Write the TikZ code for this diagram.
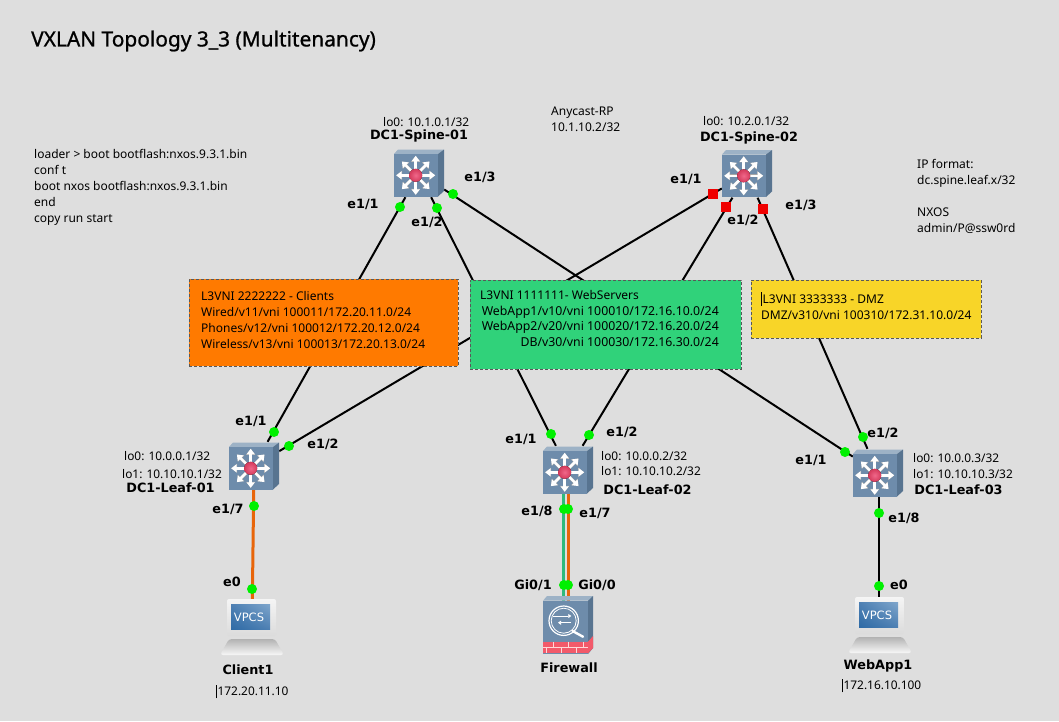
\documentclass[tikz,border=0pt]{standalone}
\usepackage{fontspec}
\setmainfont{Noto Sans}
\newfontfamily\labelfont{DejaVu Sans}
\newfontfamily\titlefont[FakeBold=0.9]{Noto Sans}
\definecolor{PageGray}{HTML}{DEDEDE}
\definecolor{BoxOrange}{HTML}{FF7A00}
\definecolor{BoxGreen}{HTML}{30D27A}
\definecolor{BoxYellow}{HTML}{F8D528}
\definecolor{LinkGreen}{HTML}{2FBA7C}
\definecolor{LinkOrange}{HTML}{E8650A}
\definecolor{PortGreen}{HTML}{00F000}
\definecolor{PortRed}{HTML}{F00000}
\definecolor{IconFront}{HTML}{6E8CAB}
\definecolor{IconTop}{HTML}{9DB2C6}
\definecolor{IconSide}{HTML}{587490}
\definecolor{ScreenDark}{HTML}{2F6BA6}
\definecolor{ScreenLight}{HTML}{7FA6CC}
\definecolor{ScreenMid}{HTML}{4E80B3}
\definecolor{DiscIn}{HTML}{F0688A}
\definecolor{DiscOut}{HTML}{D43A5C}
\definecolor{BrickRed}{HTML}{F25A6A}
\usetikzlibrary{arrows.meta,shadings}
\newcommand{\caretbar}{\rule[-2.5pt]{0.8pt}{13.5pt}\hspace{0.6pt}}
\tikzset{
    device/.style={minimum width=50pt,minimum height=48pt,inner sep=0pt},
    link/.style={line width=2pt,black},
    portdot/.style={circle,fill=PortGreen,minimum size=10pt,inner sep=0pt},
    portsquare/.style={rectangle,fill=PortRed,minimum size=10pt,inner sep=0pt},
    portlabel/.style={font=\labelfont\bfseries\fontsize{12.8}{14}\selectfont,inner sep=0pt},
    devlabel/.style={font=\labelfont\bfseries\fontsize{12.8}{14}\selectfont,inner sep=0pt},
    note/.style={font=\fontsize{12}{16}\selectfont,inner sep=0pt,anchor=north west,align=left},
    addr/.style={font=\fontsize{11.9}{14}\selectfont,inner sep=0pt,anchor=west},
    vnibox/.style={draw=black!65,dashed,line width=1pt,dash pattern=on 3pt off 2pt},
    star/.style={line width=2.6pt,white,-{Triangle[length=5.5pt,width=8pt]}},
    starshadow/.style={line width=3.2pt,black!35,-{Triangle[length=6pt,width=9pt]}},
    switchicon/.pic={
        \fill[IconTop] (-25,-19) -- (-21,-23.5) -- (25,-23.5) -- (19,-19) -- cycle;
        \fill[IconSide] (19,-19) -- (25,-23.5) -- (25,18) -- (19,23.5) -- cycle;
        \fill[IconFront] (-25,-19) rectangle (19,23.5);
        \foreach \a in {0,45,...,315} {
            \draw[starshadow] (-3.3,2.3) -- ++(\a:19.5pt);
        }
        \foreach \a in {0,45,...,315} {
            \draw[star] (-3.3,2.3) -- ++(\a:19.5pt);
        }
        \fill[inner color=DiscIn,outer color=DiscOut] (-3.3,2.3) circle (6.5pt);
    },
    vpcsicon/.pic={
        \shade[top color=black!30,bottom color=black!3,rounded corners=3pt] (-32,27) -- (-23,11) -- (23,11) -- (32,27) -- cycle;
        \shade[top color=black!4,bottom color=black!14,rounded corners=2pt] (-25,-29) rectangle (24,8);
        \shade[lower left=ScreenDark,upper right=ScreenLight,lower right=ScreenMid,upper left=ScreenMid] (-21,-24) rectangle (18,1);
        \node[font=\labelfont\fontsize{11.5}{12}\selectfont,text=white,inner sep=0pt] (-name) at (-3,-11) {VPCS};
    },
    firewallicon/.pic={
        \fill[IconTop] (-25,-24.3) -- (-21,-29) -- (25,-29) -- (20,-24.3) -- cycle;
        \fill[IconSide] (20,-24.3) -- (25,-29) -- (25,23) -- (20,29) -- cycle;
        \fill[IconFront] (-25,-24.3) rectangle (20,29);
        \fill[BrickRed] (-25,16.7) rectangle (20,28.3);
        \fill[BrickRed] (20,16.7) -- (25,11) -- (25,23) -- (20,28.3) -- cycle;
        \draw[white!85!red,line width=0.7pt] (-25,22.5) -- (20,22.5);
        \foreach \x in {-15,0,15} {
            \draw[white!85!red,line width=0.7pt] (\x,16.7) -- (\x,22.5);
            \draw[white!85!red,line width=0.7pt] (\x-7,22.5) -- (\x-7,28.3);
        }
        \draw[white,line width=2.4pt,line cap=round] (4.5,6) -- (15,11.7);
        \draw[white,line width=1.2pt] (-4.3,-4.3) circle (14.7pt);
        \draw[white,line width=0.8pt] (-4.3,-4.3) circle (12.5pt);
        \draw[white,line width=1pt,-{Triangle[length=3pt,width=4pt]}] (-15,-9) -- (3.3,-9);
        \draw[white,line width=1pt,-{Triangle[length=3pt,width=4pt]}] (3.3,-2.3) -- (-10,-2.3);
    },
}

\begin{document}
\begin{tikzpicture}[x=1pt,y=-1pt]
    \useasboundingbox[fill=PageGray] (0,0) rectangle (1059,721);
    % devices
    \node[device] (spine1) at (419,173) {};
    \node[device] (spine2) at (747,173.5) {};
    \node[device] (leaf1) at (254,466) {};
    \node[device] (leaf2) at (568,470) {};
    \node[device] (leaf3) at (878,473) {};
    \node[device] (client1) at (252,628) {};
    \node[device] (firewall) at (568,625) {};
    \node[device] (webapp1) at (880,626) {};
    % links
    \draw[link] (spine1) -- (leaf1);
    \draw[link] (spine1) -- (leaf2);
    \draw[link] (spine1) -- (leaf3);
    \draw[link] (spine2) -- (leaf1);
    \draw[link] (spine2) -- (leaf2);
    \draw[link] (spine2) -- (leaf3);
    \draw[link] ([xshift=1pt]leaf3.center) -- ([xshift=-1pt]webapp1.center);
    \draw[link,LinkOrange,line width=3pt] (leaf1) -- (client1);
    \draw[link,LinkGreen,line width=3pt] ([xshift=-4.5pt]leaf2.center) -- ([xshift=-4.5pt]firewall.center);
    \draw[link,LinkOrange,line width=3pt] ([xshift=0.5pt]leaf2.center) -- ([xshift=0.5pt]firewall.center);
    % icons
    \pic at (spine1) {switchicon};
    \pic at (spine2) {switchicon};
    \pic at (leaf1) {switchicon};
    \pic at (leaf2) {switchicon};
    \pic at (leaf3) {switchicon};
    \pic (client) at (client1) {vpcsicon};
    \pic at (firewall) {firewallicon};
    \pic (webapp) at (webapp1) {vpcsicon};
    % vni boxes
    \node[vnibox,fill=BoxOrange,minimum width=269pt,minimum height=87pt,inner sep=0pt] (clients) at (323.5,322.5) {};
    \node[vnibox,fill=BoxGreen,minimum width=271pt,minimum height=89pt,inner sep=0pt] (webservers) at (605.5,324.5) {};
    \node[vnibox,fill=BoxYellow,minimum width=230pt,minimum height=58pt,inner sep=0pt] (dmz) at (866,309) {};
    \node[note] (clientstext) at (201,291) {L3VNI 2222222 - Clients\\Wired/v11/vni 100011/172.20.11.0/24\\Phones/v12/vni 100012/172.20.12.0/24\\Wireless/v13/vni 100013/172.20.13.0/24};
    \node[note] (webheader) at (480,290.5) {L3VNI 1111111- WebServers};
    \node[note,anchor=north east,align=right,font=\fontsize{12.3}{15.7}\selectfont] (webtext) at (719,305.5) {WebApp1/v10/vni 100010/172.16.10.0/24\\WebApp2/v20/vni 100020/172.16.20.0/24\\DB/v30/vni 100030/172.16.30.0/24};
    \node[note] (dmztext) at (761,292) {\caretbar L3VNI 3333333 - DMZ\\DMZ/v310/vni 100310/172.31.10.0/24};
    % port markers
    \foreach \x/\y [count=\i] in {400/207,437/208,453/194,274/432,289/446,254/506,252/589,551/434,589/435,564/509,568/509,564/585,568/585,845/452,863/437,879/513,879/586} {
        \node[portdot] (dot\i) at (\x,\y) {};
    }
    \foreach \x/\y [count=\i] in {713/194,726/207,763/209} {
        \node[portsquare] (square\i) at (\x,\y) {};
    }
    % port labels
    \foreach \x/\y/\t [count=\i] in {363/204/e1\slash 1,427/222/e1\slash 2,480/177/e1\slash 3,686/179/e1\slash 1,743/220/e1\slash 2,801/205/e1\slash 3,251/421/e1\slash 1,323/444/e1\slash 2,228/509/e1\slash 7,232/582/e0,521/439/e1\slash 1,622/432/e1\slash 2,537/511/e1\slash 8,595/513/e1\slash 7,533/585/Gi0\slash 1,597/585/Gi0\slash 0,811/460/e1\slash 1,883/433/e1\slash 2,904/518/e1\slash 8,899/585/e0} {
        \node[portlabel] (port\i) at (\x,\y) {\t};
    }
    % device labels
    \node[devlabel] (spine1name) at (419,136) {DC1-Spine-01};
    \node[devlabel] (spine2name) at (749,138) {DC1-Spine-02};
    \node[devlabel] (leaf1name) at (170.5,487.5) {DC1-Leaf-01};
    \node[devlabel] (leaf2name) at (647.5,490) {DC1-Leaf-02};
    \node[devlabel] (leaf3name) at (958.5,490) {DC1-Leaf-03};
    \node[devlabel] (client1name) at (248,669.5) {Client1};
    \node[devlabel] (firewallname) at (569,667.5) {Firewall};
    \node[devlabel] (webapp1name) at (878,665.5) {WebApp1};
    % addresses
    \node[addr] (spine1lo) at (383,122) {lo0: 10.1.0.1/32};
    \node[addr] (spine2lo) at (703,121) {lo0: 10.2.0.1/32};
    \node[addr] (leaf1lo0) at (124,456) {lo0: 10.0.0.1/32};
    \node[addr] (leaf1lo1) at (122,474) {lo1: 10.10.10.1/32};
    \node[addr] (leaf2lo0) at (601,456) {lo0: 10.0.0.2/32};
    \node[addr] (leaf2lo1) at (601,471) {lo1: 10.10.10.2/32};
    \node[addr] (leaf3lo0) at (913,458) {lo0: 10.0.0.3/32};
    \node[addr] (leaf3lo1) at (913,474) {lo1: 10.10.10.3/32};
    \node[addr] (client1ip) at (216,691.5) {\caretbar 172.20.11.10};
    \node[addr] (webapp1ip) at (842,685.5) {\caretbar 172.16.10.100};
    % notes
    \node[font=\titlefont\fontsize{20.9}{24}\selectfont,inner sep=0pt,anchor=west] (title) at (31,41) {VXLAN Topology 3\_3 (Multitenancy)};
    \node[note] (bootnote) at (34,149.5) {loader > boot bootflash:nxos.9.3.1.bin\\conf t\\boot nxos bootflash:nxos.9.3.1.bin\\end\\copy run start};
    \node[note] (anycast) at (551,107) {Anycast-RP\\10.1.10.2/32};
    \node[note] (ipformat) at (917,159) {IP format:\\dc.spine.leaf.x/32\\[16pt]NXOS\\admin/P@ssw0rd};
\end{tikzpicture}
\end{document}
